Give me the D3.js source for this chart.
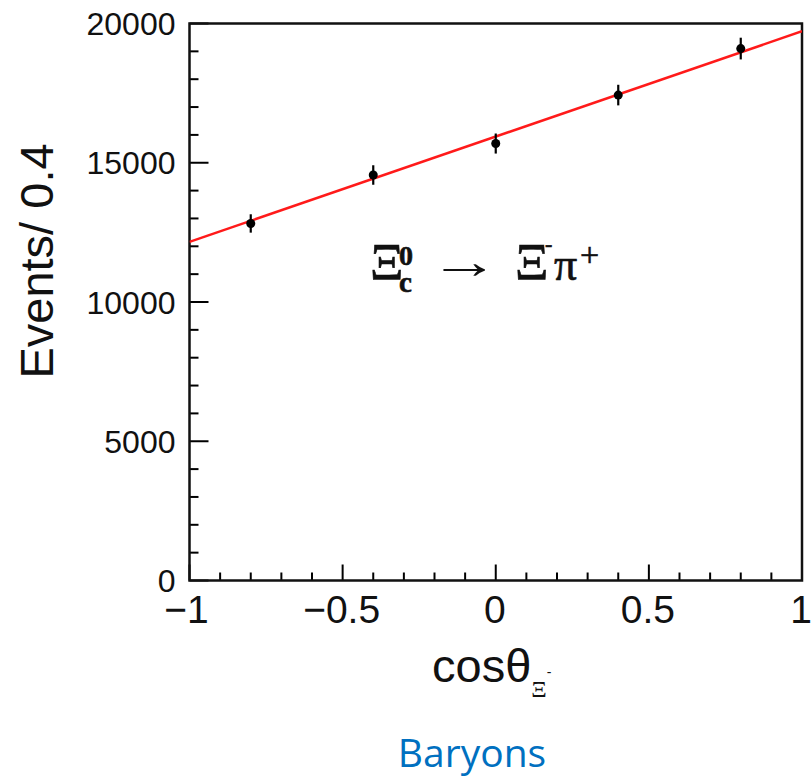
<!DOCTYPE html>
<html>
<head>
<meta charset="utf-8">
<script src="https://cdn.jsdelivr.net/npm/d3@7"></script>
<style>
  body { margin: 0; background: #fff; }
  svg { display: block; }
</style>
</head>
<body>
<div id="chart"></div>
<script>
// bin centres, counts and errors
const cosBins = [-0.8, -0.4, 0, 0.4, 0.8];
const events = [12820, 14560, 15690, 17430, 19100];
const errors = [330, 350, 360, 370, 390];

// linear fit, values at the two ends of the range
const fitX = [-1, 1];
const fitY = [12160, 19720];

const xTicks = [-1, -0.5, 0, 0.5, 1];
const xTickLabels = ["\u22121", "\u22120.5", "0", "0.5", "1"];
const yTicks = [0, 5000, 10000, 15000, 20000];

const width = 812,
      height = 778,
      margin = ({ top: 23.5, right: 10, bottom: 197.5, left: 189.5 });

const data = cosBins.map((c, i) => ({ c: c, n: events[i], e: errors[i] }));

let svg = d3.select("#chart")
    .append("svg")
    .attr("width", width)
    .attr("height", height)
    .attr("viewBox", [0, 0, width, height]);

let x = d3.scaleLinear()
    .domain([-1, 1])
    .range([margin.left, width - margin.right]);

let y = d3.scaleLinear()
    .domain([0, 20000])
    .range([height - margin.bottom, margin.top]);

svg.append("clipPath").attr("id", "plot")
  .append("rect")
    .attr("x", x(-1)).attr("y", y(20000))
    .attr("width", x(1) - x(-1)).attr("height", y(0) - y(20000));

// minor + major ticks pointing inward (ROOT style)
svg.append("g")
    .attr("stroke", "#000")
    .attr("stroke-width", 2)
  .selectAll("line")
  .data(d3.range(0, 20001, 1000))
  .join("line")
    .attr("x1", x(-1))
    .attr("x2", d => x(-1) + (d % 5000 === 0 ? 19 : 9))
    .attr("y1", d => y(d))
    .attr("y2", d => y(d));

svg.append("g")
    .attr("stroke", "#000")
    .attr("stroke-width", 2)
  .selectAll("line")
  .data(d3.range(-10, 11).map(d => d / 10))
  .join("line")
    .attr("x1", d => x(d))
    .attr("x2", d => x(d))
    .attr("y1", y(0))
    .attr("y2", (d, i) => y(0) - (i % 5 === 0 ? 16 : 8));

// frame
svg.append("rect")
    .attr("x", x(-1))
    .attr("y", y(20000))
    .attr("width", x(1) - x(-1))
    .attr("height", y(0) - y(20000))
    .attr("fill", "none")
    .attr("stroke", "#111")
    .attr("stroke-width", 2.5);

// tick labels
svg.append("g")
    .attr("font-family", "'Liberation Sans', Arial, sans-serif")
    .attr("font-size", 32)
    .attr("fill", "#111")
    .attr("text-anchor", "end")
  .selectAll("text")
  .data(yTicks)
  .join("text")
    .attr("x", x(-1) - 14)
    .attr("y", d => y(d) + 11.5)
    .text(d => d);

svg.append("g")
    .attr("font-family", "'Liberation Sans', Arial, sans-serif")
    .attr("font-size", 39)
    .attr("fill", "#111")
    .attr("text-anchor", "middle")
  .selectAll("text")
  .data(xTicks)
  .join("text")
    .attr("x", (d, i) => x(d) - (i === 0 ? 3 : 1))
    .attr("y", 623)
    .text((d, i) => xTickLabels[i]);

// fit line
svg.append("path")
    .datum(fitX.map((v, i) => [v, fitY[i]]))
    .attr("clip-path", "url(#plot)")
    .attr("fill", "none")
    .attr("stroke", "#ff1a1a")
    .attr("stroke-width", 2.5)
    .attr("d", d3.line().x(d => x(d[0])).y(d => y(d[1])));

// data points with error bars
let pt = svg.selectAll(".pt")
    .data(data)
    .join("g")
    .attr("class", "pt");

pt.append("line")
    .attr("x1", d => x(d.c))
    .attr("x2", d => x(d.c))
    .attr("y1", d => y(d.n - d.e))
    .attr("y2", d => y(d.n + d.e))
    .attr("stroke", "#000")
    .attr("stroke-width", 2.2);

pt.append("circle")
    .attr("cx", d => x(d.c))
    .attr("cy", d => y(d.n))
    .attr("r", 4.5)
    .attr("fill", "#000");

// axis titles
svg.append("text")
    .attr("transform", `translate(53,${261}) rotate(-90)`)
    .attr("text-anchor", "middle")
    .attr("font-family", "'Liberation Sans', Arial, sans-serif")
    .attr("font-size", 47)
    .attr("fill", "#111")
    .text("Events/ 0.4");

let xt = svg.append("text")
    .attr("x", 432)
    .attr("y", 682)
    .attr("font-family", "'Liberation Sans', Arial, sans-serif")
    .attr("font-size", 47)
    .attr("fill", "#111");
xt.append("tspan").text("cos\u03b8");
xt.append("tspan")
    .attr("font-family", "'Liberation Serif', serif")
    .attr("font-size", 24).attr("dy", 15).text("\u039e");
xt.append("tspan").attr("font-size", 14).attr("dy", -20).text("-");

// decay annotation, one text element with positioned pieces
let ann = svg.append("text")
    .attr("font-family", "'Liberation Serif', 'Times New Roman', serif")
    .attr("fill", "#111")
    .attr("stroke", "#111")
    .attr("stroke-width", 0.6);

ann.append("tspan").attr("x", 370).attr("y", 280)
    .attr("font-size", 52).text("\u039e");
ann.append("tspan").attr("x", 399).attr("y", 265)
    .attr("font-size", 28).attr("font-weight", "bold").text("0");
ann.append("tspan").attr("x", 399).attr("y", 292)
    .attr("font-size", 29).attr("font-weight", "bold").text("c");
ann.append("tspan").attr("x", 515).attr("y", 280)
    .attr("font-size", 52).text("\u039e");
ann.append("tspan").attr("x", 545).attr("y", 251)
    .attr("font-size", 22).text("-");
ann.append("tspan").attr("x", 554).attr("y", 280)
    .attr("font-size", 46).text("\u03c0");
ann.append("tspan").attr("x", 580).attr("y", 266)
    .attr("font-size", 34).text("+");

// arrow glyph stretched to the reference length
svg.append("text")
    .attr("transform", "translate(429,278) scale(1.6,1.1)")
    .attr("font-family", "'Liberation Serif', 'Times New Roman', serif")
    .attr("font-size", 44)
    .attr("fill", "#111")
    .text("\u2192");

// caption below the plot
svg.append("text")
    .attr("x", 472)
    .attr("y", 767)
    .attr("text-anchor", "middle")
    .attr("font-family", "'Open Sans', 'Noto Sans', sans-serif")
    .attr("font-size", 39)
    .attr("fill", "#0070c0")
    .text("Baryons");
</script>
</body>
</html>
